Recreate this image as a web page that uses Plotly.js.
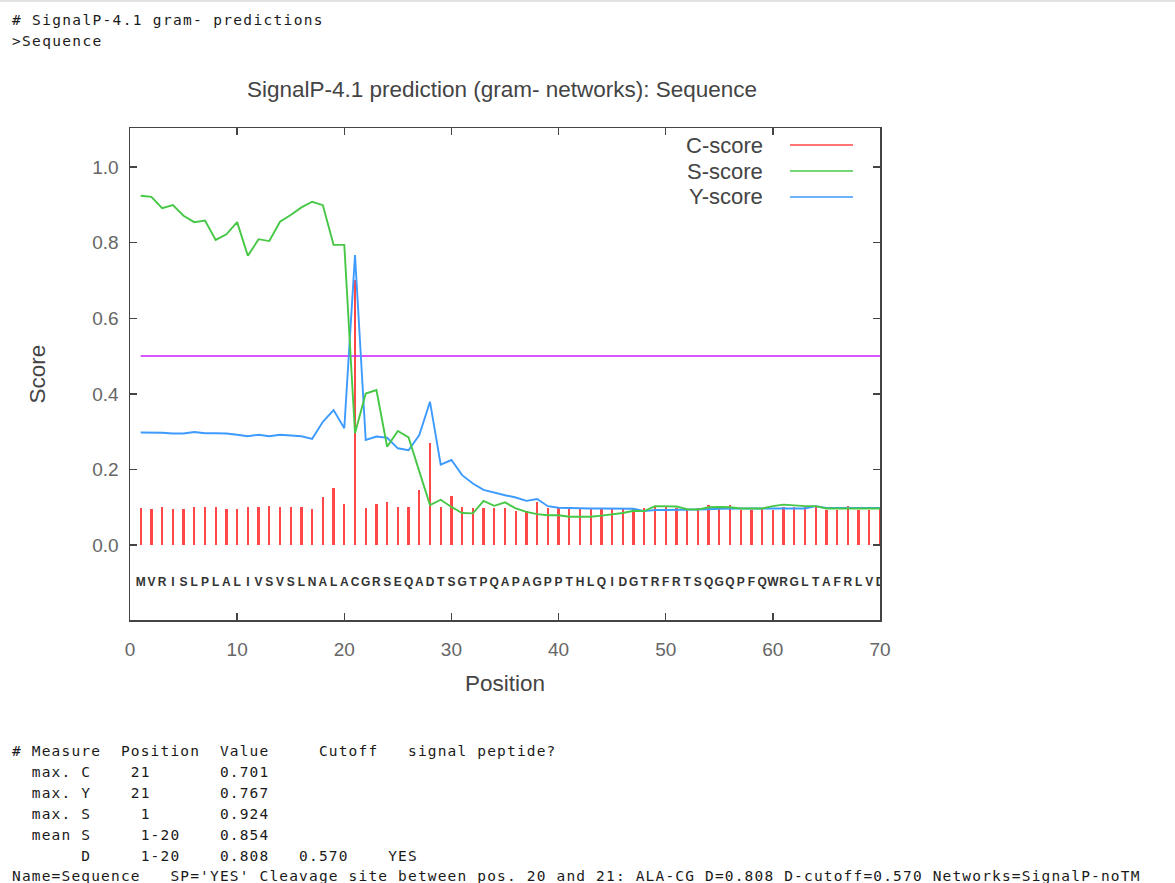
<!DOCTYPE html>
<html>
<head>
<meta charset="utf-8">
<script src="https://cdn.plot.ly/plotly-3.0.1.min.js"></script>
<style>
  html, body { margin: 0; padding: 0; background: #fff; width: 1175px; height: 883px; overflow: hidden; }
  #topline { position: absolute; left: 0; top: 0; width: 1175px; height: 2px; background: #e2e2e2; }
  #chart { position: absolute; left: 0; top: 0; width: 1175px; height: 883px; }
  pre.txt {
    position: absolute; left: 12px; margin: 0; padding: 0;
    font-family: "DejaVu Sans Mono", "Liberation Mono", monospace;
    font-size: 14.5px; letter-spacing: 1.17px; line-height: 20.9px; color: #1a1a1a;
    pointer-events: none; white-space: pre;
  }
</style>
</head>
<body>
<div id="topline"></div>
<div id="chart"></div>
<pre class="txt" id="head" style="top:10px; letter-spacing:1.33px;"></pre>
<pre class="txt" id="foot" style="top:741px;"></pre>
<script>
// ---------------- data ----------------
const sequence = "MVRISLPLALIVSVSLNALACGRSEQADTSGTPQAPAGPPTHLQIDGTRFRTSQGQPFQWRGLTAFRLVD";
const positions = [1,2,3,4,5,6,7,8,9,10,11,12,13,14,15,16,17,18,19,20,
  21,22,23,24,25,26,27,28,29,30,31,32,33,34,35,36,37,38,39,40,
  41,42,43,44,45,46,47,48,49,50,51,52,53,54,55,56,57,58,59,60,
  61,62,63,64,65,66,67,68,69,70];

const cScore = [0.099,0.095,0.100,0.096,0.096,0.100,0.100,0.100,0.096,0.096,
  0.100,0.100,0.104,0.100,0.100,0.100,0.096,0.128,0.150,0.110,
  0.701,0.097,0.110,0.113,0.100,0.100,0.145,0.270,0.100,0.131,
  0.100,0.099,0.097,0.097,0.097,0.090,0.090,0.114,0.097,0.097,
  0.097,0.097,0.097,0.097,0.097,0.097,0.097,0.097,0.103,0.101,
  0.097,0.093,0.097,0.106,0.097,0.106,0.094,0.094,0.097,0.094,
  0.100,0.100,0.100,0.100,0.094,0.094,0.103,0.094,0.094,0.097];

const sScore = [0.924,0.921,0.891,0.899,0.871,0.854,0.858,0.807,0.822,0.854,
  0.765,0.809,0.804,0.855,0.873,0.893,0.908,0.899,0.794,0.794,
  0.296,0.401,0.410,0.260,0.302,0.285,0.195,0.106,0.120,0.101,
  0.085,0.084,0.117,0.104,0.113,0.097,0.088,0.082,0.079,0.079,
  0.075,0.075,0.075,0.078,0.082,0.085,0.091,0.090,0.103,0.103,
  0.102,0.095,0.094,0.100,0.101,0.100,0.097,0.097,0.097,0.103,
  0.107,0.105,0.103,0.103,0.097,0.097,0.097,0.097,0.097,0.097];

const yScore = [0.298,0.298,0.297,0.295,0.295,0.299,0.296,0.296,0.295,0.292,
  0.288,0.292,0.288,0.292,0.289,0.288,0.281,0.326,0.357,0.309,
  0.767,0.278,0.287,0.284,0.256,0.251,0.291,0.379,0.213,0.225,
  0.185,0.163,0.146,0.138,0.132,0.126,0.117,0.122,0.103,0.099,
  0.098,0.098,0.097,0.097,0.097,0.096,0.096,0.090,0.093,0.093,
  0.093,0.093,0.095,0.095,0.096,0.097,0.097,0.097,0.097,0.097,
  0.097,0.097,0.097,0.103,0.098,0.098,0.098,0.098,0.098,0.098];

const cutoffX = [1, 70];
const cutoffY = [0.5, 0.5];
const letterY = -0.1;

const xTicks = [0,10,20,30,40,50,60,70];
const yTicks = [0.0,0.2,0.4,0.6,0.8,1.0];

const seriesNames = ["C-score", "S-score", "Y-score"];
const seriesColors = ["#ff4747", "#46c846", "#3d9bff"];

const headText = "# SignalP-4.1 gram- predictions\n>Sequence";
const footLines = [
  "# Measure  Position  Value     Cutoff   signal peptide?",
  "  max. C    21       0.701",
  "  max. Y    21       0.767",
  "  max. S     1       0.924",
  "  mean S     1-20    0.854",
  "       D     1-20    0.808   0.570    YES",
  "Name=Sequence   SP='YES' Cleavage site between pos. 20 and 21: ALA-CG D=0.808 D-cutoff=0.570 Networks=SignalP-noTM"
];

document.getElementById('head').textContent = headText;
document.getElementById('foot').textContent = footLines.join("\n");

// ---------------- traces ----------------
const traces = [
  {
    type: 'bar', x: positions, y: cScore, width: 0.22,
    marker: { color: seriesColors[0], line: { width: 0 } },
    name: seriesNames[0], showlegend: false, hoverinfo: 'x+y'
  },
  {
    type: 'scatter', mode: 'lines', x: cutoffX, y: cutoffY,
    line: { color: '#cc1cff', width: 1.6 }, showlegend: false, hoverinfo: 'skip'
  },
  {
    type: 'scatter', mode: 'lines', x: positions, y: yScore,
    line: { color: seriesColors[2], width: 1.9 }, name: seriesNames[2], showlegend: false
  },
  {
    type: 'scatter', mode: 'lines', x: positions, y: sScore,
    line: { color: seriesColors[1], width: 1.9 }, name: seriesNames[1], showlegend: false
  },
  {
    type: 'scatter', mode: 'text', x: positions,
    y: positions.map(() => letterY),
    text: sequence.split(''),
    textposition: 'middle center',
    textfont: { family: 'Liberation Sans', size: 12, color: '#333', weight: 'bold' },
    showlegend: false, hoverinfo: 'skip'
  }
];

// custom gnuplot-style legend: text then line sample
const legendY = [0.9654, 0.9126, 0.8598];
const annotations = seriesNames.map((n, i) => ({
  xref: 'paper', yref: 'paper', x: 0.846, y: legendY[i],
  xanchor: 'right', yanchor: 'middle', showarrow: false, text: n,
  font: { family: 'Liberation Sans', size: 22, color: '#444' }
}));
const shapes = seriesNames.map((n, i) => ({
  type: 'line', xref: 'paper', yref: 'paper',
  x0: 0.88, x1: 0.964, y0: legendY[i], y1: legendY[i],
  line: { color: seriesColors[i], width: 1.6 }
}));

const axisCommon = {
  showgrid: false, zeroline: false, showline: true, mirror: 'ticks',
  linecolor: '#444', linewidth: 1.5,
  ticks: 'inside', ticklen: 7, tickwidth: 1.3, tickcolor: '#444',
  tickfont: { family: 'Liberation Sans', size: 19, color: '#666' }
};

const layout = {
  width: 1175, height: 883,
  margin: { l: 130, r: 295, t: 128, b: 263 },
  paper_bgcolor: 'rgba(0,0,0,0)', plot_bgcolor: '#fff',
  showlegend: false,
  bargap: 0,
  title: {
    text: 'SignalP-4.1 prediction (gram- networks): Sequence',
    font: { family: 'Liberation Sans', size: 22.5, color: '#444' },
    xref: 'paper', x: 0.496, xanchor: 'center',
    yref: 'container', y: 1 - 89 / 883, yanchor: 'middle'
  },
  xaxis: Object.assign({}, axisCommon, {
    range: [0, 70], tickvals: xTicks, ticklabelstandoff: 12,
    title: { text: 'Position', font: { family: 'Liberation Sans', size: 22.5, color: '#444' }, standoff: 16 }
  }),
  yaxis: Object.assign({}, axisCommon, {
    range: [-0.198, 1.103], tickvals: yTicks, tickformat: '.1f', ticklabelstandoff: 6,
    title: { text: 'Score', font: { family: 'Liberation Sans', size: 22.5, color: '#444' }, standoff: 40 }
  }),
  annotations: annotations,
  shapes: shapes
};

Plotly.newPlot('chart', traces, layout, { staticPlot: true, displayModeBar: false });
</script>
</body>
</html>
